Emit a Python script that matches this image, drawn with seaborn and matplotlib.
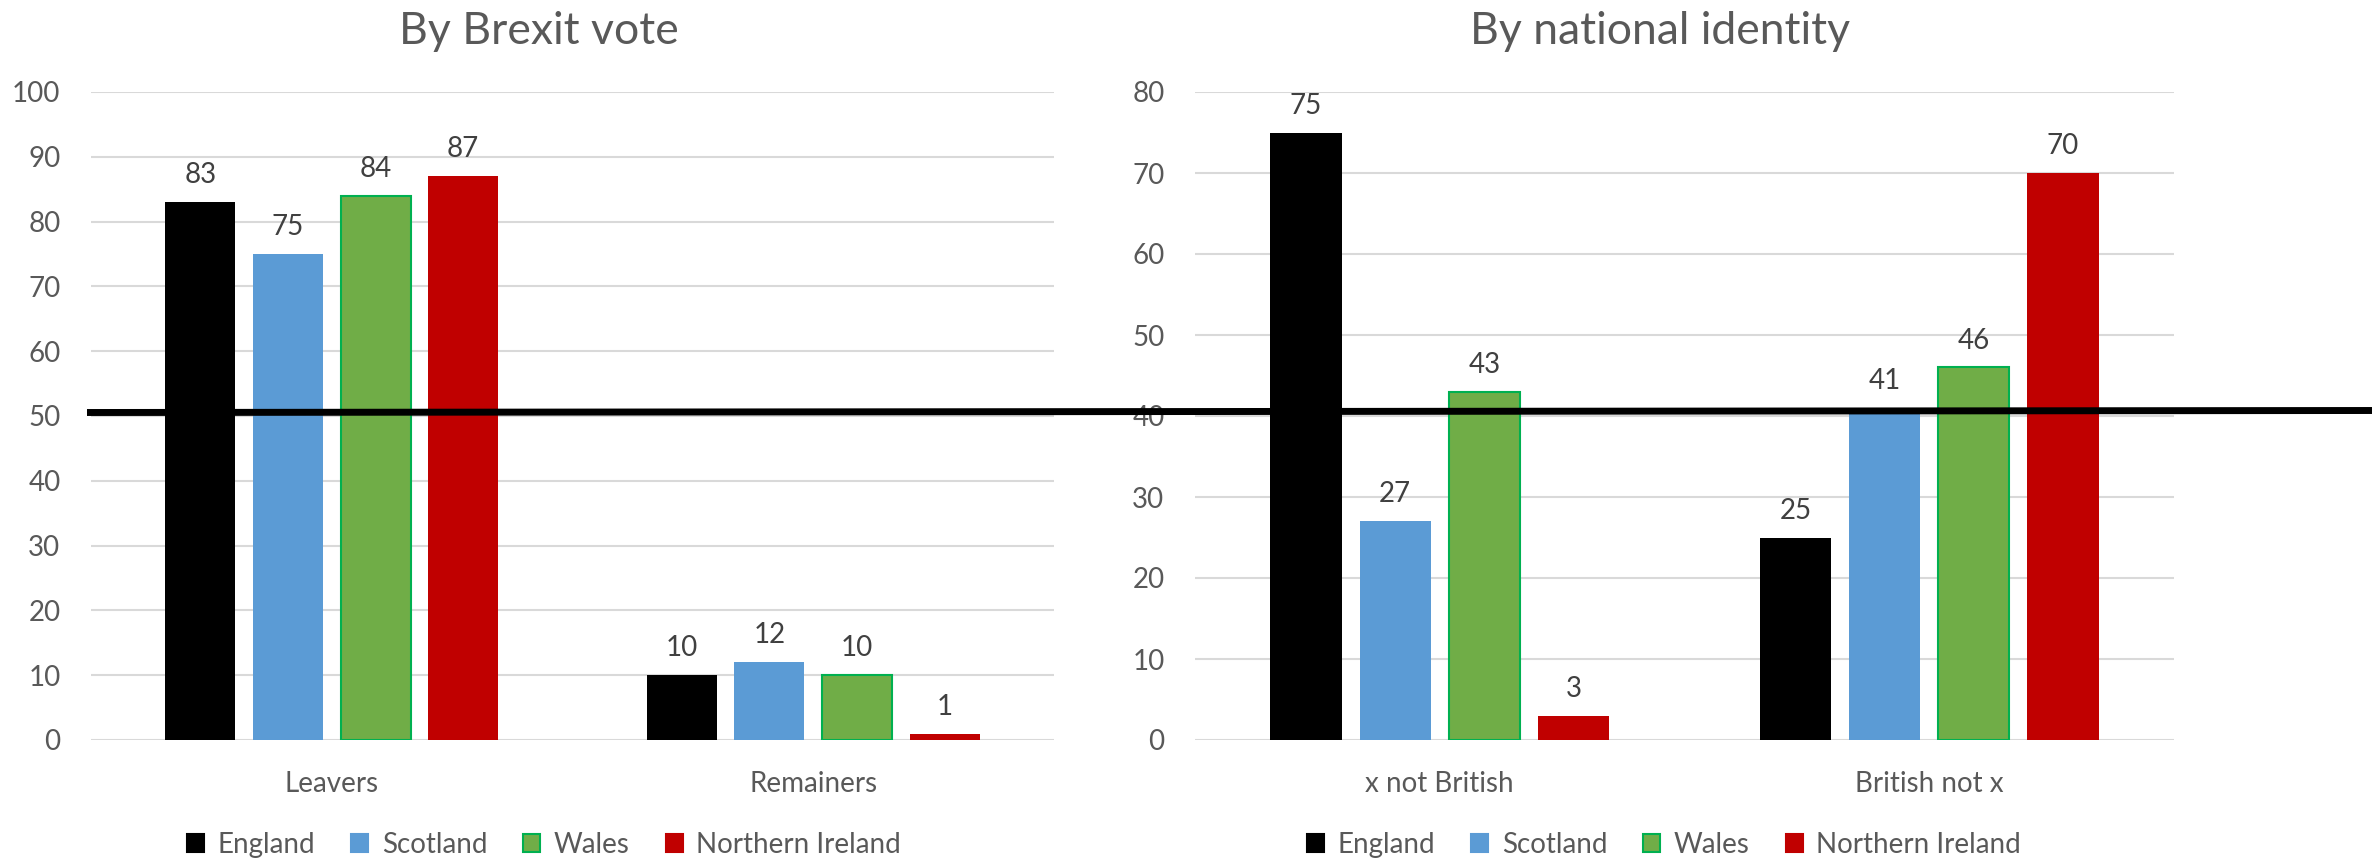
import matplotlib
matplotlib.use("Agg")
import matplotlib.pyplot as plt
from matplotlib.lines import Line2D
from matplotlib.patches import Patch
import seaborn as sns
import pandas as pd

# ---- data ----
nations = ["England", "Scotland", "Wales", "Northern Ireland"]
brexit_groups = ["Leavers", "Remainers"]
identity_groups = ["x not British", "British not x"]

england_brexit = [83, 10]
scotland_brexit = [75, 12]
wales_brexit = [84, 10]
ni_brexit = [87, 1]

england_identity = [75, 25]
scotland_identity = [27, 41]
wales_identity = [43, 46]
ni_identity = [3, 70]

brexit_ticks = list(range(0, 101, 10))
identity_ticks = list(range(0, 81, 10))

colors = ["#000000", "#5B9BD5", "#70AD47", "#C00000"]
wales_edge = "#00B050"


def long_df(groups, series):
    rows = []
    for nation, vals in zip(nations, series):
        for g, v in zip(groups, vals):
            rows.append({"group": g, "nation": nation, "value": v})
    return pd.DataFrame(rows)


df_brexit = long_df(brexit_groups, [england_brexit, scotland_brexit, wales_brexit, ni_brexit])
df_identity = long_df(identity_groups, [england_identity, scotland_identity, wales_identity, ni_identity])

sns.set_theme(style="white")
FONT = ["Lato", "DejaVu Sans"]
plt.rcParams["font.family"] = FONT

W, H = 2372, 861
fig = plt.figure(figsize=(W / 100, H / 100), dpi=100)

TEXT = "#595959"
GRID = "#D9D9D9"
FS = 20


def make_panel(rect, df, groups, ticks, ymax, title, title_x, legend_x):
    ax = fig.add_axes(rect)
    sns.barplot(data=df, x="group", y="value", hue="nation", order=groups,
                hue_order=nations, palette=colors, width=0.728, gap=0.2,
                linewidth=0, saturation=1, legend=False, ax=ax, errorbar=None)
    for c in ax.containers:
        ax.bar_label(c, padding=10, fontsize=FS, color="#404040")
    for p in ax.containers[2].patches:
        p.set_edgecolor(wales_edge)
        p.set_linewidth(1.5)
    ax.set_ylim(0, ymax)
    ax.set_xlim(-0.5, 1.5)
    ax.set_yticks(ticks)
    ax.set_yticklabels([str(t) for t in ticks])
    ax.yaxis.grid(True, color=GRID, linewidth=1.5)
    ax.set_axisbelow(True)
    for s in ax.spines.values():
        s.set_visible(False)
    ax.tick_params(axis="y", length=0, pad=22, labelsize=FS, labelcolor=TEXT)
    ax.tick_params(axis="x", length=0, pad=22, labelsize=FS, labelcolor=TEXT)
    ax.set_xlabel("")
    ax.set_ylabel("")
    fig.text(title_x, 1 - 32 / H, title, ha="center", va="center",
             fontsize=32, color=TEXT)
    handles = [Patch(facecolor=colors[i],
                     edgecolor=(wales_edge if i == 2 else colors[i]),
                     linewidth=1.5) for i in range(4)]
    fig.legend(handles, nations, loc="center",
               bbox_to_anchor=(legend_x, 1 - 845 / H), ncol=4, frameon=False,
               fontsize=20, labelcolor=TEXT, handlelength=0.6,
               handleheight=0.6, handletextpad=0.5, columnspacing=1.3)
    return ax


ax1 = make_panel([91 / W, 121 / H, 963 / W, 648 / H], df_brexit, brexit_groups,
                 brexit_ticks, 100, "By Brexit vote", 539 / W, 544 / W)
ax2 = make_panel([1195 / W, 121 / H, 979 / W, 648 / H], df_identity, identity_groups,
                 identity_ticks, 80, "By national identity", 1660 / W, 1664 / W)

fig.add_artist(Line2D([87 / W, 1.0], [1 - 412.5 / H, 1 - 410.5 / H],
                      transform=fig.transFigure, color="black", lw=5,
                      zorder=20, solid_capstyle="butt"))

fig.savefig("out.png", dpi=100)
